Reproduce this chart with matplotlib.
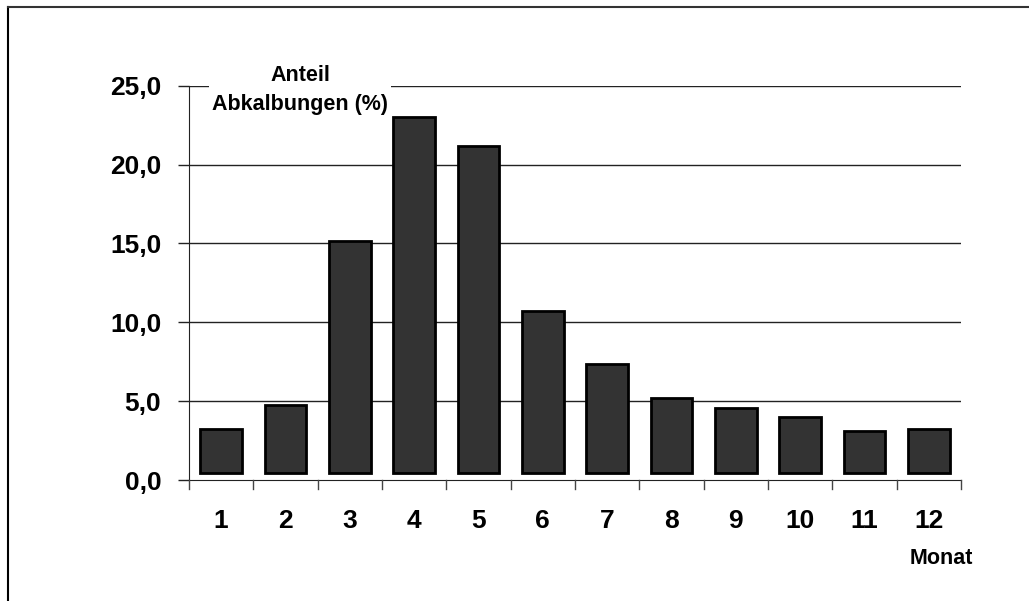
import matplotlib
matplotlib.use("Agg")
import matplotlib.pyplot as plt
from matplotlib.lines import Line2D
from matplotlib.ticker import FixedLocator

plt.rcParams["font.family"] = ["Liberation Sans", "DejaVu Sans"]

# ── data ────────────────────────────────────────────────────────────────────
months = ["1", "2", "3", "4", "5", "6", "7", "8", "9", "10", "11", "12"]
share = [3.23, 4.76, 15.17, 23.0, 21.2, 10.7, 7.34, 5.22, 4.59, 4.02, 3.09, 3.23]
y_ticks = [0, 5, 10, 15, 20, 25]
y_labels = ["0,0", "5,0", "10,0", "15,0", "20,0", "25,0"]

W, H = 1029, 601
BAR_BASE = 0.45   # bars float slightly above the axis in the original

fig = plt.figure(figsize=(W / 100, H / 100), dpi=100)
ax = fig.add_axes([189 / W, (H - 480) / H, (961 - 189) / W, (480 - 85.7) / H])

x = list(range(len(months)))
heights = [v - BAR_BASE for v in share]
ax.bar(x, heights, bottom=BAR_BASE, width=0.65, color="#333333",
       edgecolor="black", linewidth=2, zorder=3)

ax.set_xlim(-0.5, len(months) - 0.5)
ax.set_ylim(0, 25)

ax.yaxis.set_major_locator(FixedLocator(y_ticks))
ax.set_yticklabels(y_labels, fontsize=19, fontweight="bold")
ax.tick_params(axis="y", length=8, width=1, color="#222222", pad=12)

# month labels centred under bars, tick marks between categories
ax.set_xticks(x)
ax.set_xticklabels(months, fontsize=19, fontweight="bold")
ax.tick_params(axis="x", length=0, pad=21)
for b in [i - 0.5 for i in range(len(months) + 1)]:
    ax.plot([b, b], [0, -0.55], color="#444444", lw=1, clip_on=False, zorder=4)

for val in y_ticks[1:]:
    ax.axhline(val, color="#222222", lw=1, zorder=1)

ax.spines[["top", "right"]].set_visible(False)
ax.spines["left"].set_color("#222222")
ax.spines["bottom"].set_color("#222222")

# y-axis caption sitting on top of the 25 gridline
ax.text(1.225, 24.75, "Anteil\nAbkalbungen (%)", ha="center", va="center",
        fontsize=15.5, fontweight="bold", linespacing=1.5, zorder=2,
        bbox=dict(facecolor="white", edgecolor="none", pad=2))
fig.text(941 / W, 1 - 558 / H, "Monat", ha="center", va="center",
         fontsize=15.5, fontweight="bold")

# outer frame (left and top only visible)
fig.add_artist(Line2D([7.5 / W, 7.5 / W], [0, 1 - 6.5 / H], color="black", lw=1.5))
fig.add_artist(Line2D([7.5 / W, 1], [1 - 6.5 / H, 1 - 6.5 / H], color="#333333", lw=1.5))

fig.savefig("out.png", dpi=100)
